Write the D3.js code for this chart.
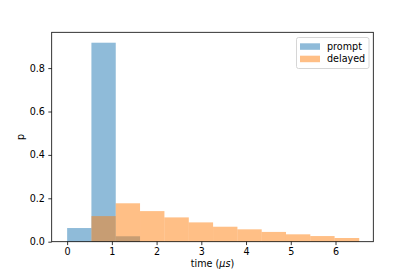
<!DOCTYPE html>
<html>
<head>
<meta charset="utf-8">
<script src="https://cdn.jsdelivr.net/npm/d3@7"></script>
<style>
  body { margin: 0; background: #fff; }
  text { font-family: "DejaVu Sans", sans-serif; fill: #000; }
</style>
</head>
<body>
<div id="container"></div>
<script>
/* DATA */
const binEdges = [0, 0.543, 1.087, 1.63, 2.175, 2.72, 3.263, 3.807, 4.35, 4.893, 5.437, 5.98, 6.53];
const promptP  = [0.063, 0.917, 0.025, 0, 0, 0, 0, 0, 0, 0, 0, 0];
const delayedP = [0, 0.118, 0.177, 0.141, 0.112, 0.089, 0.069, 0.057, 0.045, 0.034, 0.026, 0.017];
const xTicks = [0, 1, 2, 3, 4, 5, 6];
const yTicks = [0, 0.2, 0.4, 0.6, 0.8];
const seriesNames = ["prompt", "delayed"];
const seriesColors = ["#1f77b4", "#ff7f0e"];

/* CONSTANTS */
const width = 415, height = 277;
const plotLeft = 51.7, plotRight = 373.3, plotTop = 32.3, plotBottom = 241.7;
const fontSize = 9.6;

const svg = d3.select("#container")
  .append("svg")
  .attr("width", width)
  .attr("height", height);

// SCALES
const xScale = d3.scaleLinear()
  .domain([-0.345, 6.845])
  .range([plotLeft, plotRight]);

const yScale = d3.scaleLinear()
  .domain([0, 0.965])
  .range([plotBottom, plotTop]);

// BARS
const series = [promptP, delayedP];
series.forEach((vals, si) => {
  const bins = vals.map((v, i) => ({ x0: binEdges[i], x1: binEdges[i + 1], p: v }))
    .filter(d => d.p > 0);
  svg.append("g")
    .selectAll("rect")
    .data(bins)
    .join("rect")
    .attr("x", d => xScale(d.x0))
    .attr("width", d => xScale(d.x1) - xScale(d.x0))
    .attr("y", d => yScale(d.p))
    .attr("height", d => yScale(0) - yScale(d.p))
    .attr("fill", seriesColors[si])
    .attr("fill-opacity", 0.5);
});

// AXES
const xAxis = d3.axisBottom(xScale).tickValues(xTicks).tickFormat(d3.format("d")).tickSize(3.4).tickPadding(3.4);
const yAxis = d3.axisLeft(yScale).tickValues(yTicks).tickFormat(d3.format(".1f")).tickSize(3.4).tickPadding(3.4);

const gx = svg.append("g")
  .attr("transform", `translate(0,${plotBottom})`)
  .call(xAxis);
const gy = svg.append("g")
  .attr("transform", `translate(${plotLeft},0)`)
  .call(yAxis);

[gx, gy].forEach(g => {
  g.select(".domain").remove();
  g.selectAll("line").attr("stroke", "#000").attr("stroke-width", 0.8);
  g.selectAll("text").style("font-size", fontSize + "px").attr("font-family", "DejaVu Sans");
});

// SPINES
svg.append("rect")
  .attr("x", plotLeft)
  .attr("y", plotTop)
  .attr("width", plotRight - plotLeft)
  .attr("height", plotBottom - plotTop)
  .attr("fill", "none")
  .attr("stroke", "#000")
  .attr("stroke-width", 0.8);

// LABELS
const xLabel = svg.append("text")
  .attr("x", (plotLeft + plotRight) / 2)
  .attr("y", 267)
  .attr("text-anchor", "middle")
  .style("font-size", fontSize + "px");
xLabel.append("tspan").text("time (");
xLabel.append("tspan").style("font-style", "italic").text("\u03bcs");
xLabel.append("tspan").text(")");

svg.append("text")
  .attr("transform", `translate(24,${(plotTop + plotBottom) / 2}) rotate(-90)`)
  .attr("text-anchor", "middle")
  .style("font-size", fontSize + "px")
  .text("p");

// LEGEND
const legend = svg.append("g");
legend.append("rect")
  .attr("x", 296.5)
  .attr("y", 37.5)
  .attr("width", 72.5)
  .attr("height", 31)
  .attr("rx", 2)
  .attr("fill", "#fff")
  .attr("fill-opacity", 0.8)
  .attr("stroke", "#ccc")
  .attr("stroke-width", 0.8);

seriesNames.forEach((name, i) => {
  const y = 43.3 + i * 12.4;
  legend.append("rect")
    .attr("x", 300)
    .attr("y", y)
    .attr("width", 20)
    .attr("height", 6.5)
    .attr("fill", seriesColors[i])
    .attr("fill-opacity", 0.5);
  legend.append("text")
    .attr("x", 327)
    .attr("y", y + 6.6)
    .style("font-size", fontSize + "px")
    .text(name);
});
</script>
</body>
</html>
